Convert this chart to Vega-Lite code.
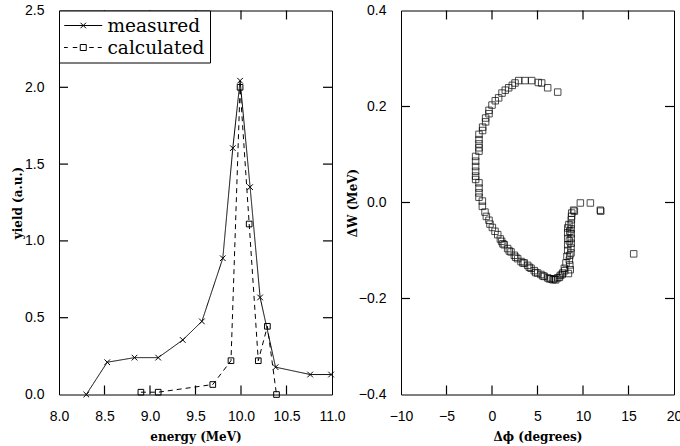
{
  "$schema": "https://vega.github.io/schema/vega-lite/v6.json",
  "padding": {"left": 10, "top": 2.5, "right": 0, "bottom": 0},
  "bounds": "flush",
  "spacing": 69,
  "config": {
    "view": {"stroke": "black", "strokeWidth": 1},
    "axis": {
      "domain": false, "grid": false, "ticks": false, "tickSize": 0,
      "labelFont": "Liberation Sans", "labelFontSize": 14, "labelColor": "black",
      "labelPadding": 15, "labelOverlap": false, "labelFlush": false, "labelBound": false,
      "titleFont": "DejaVu Serif", "titleFontWeight": "bold", "titleFontSize": 12, "titleColor": "black"
    }
  },
  "datasets": {
    "left": [
      {"energy": 8.30, "yield": 0.0, "series": "measured"},
      {"energy": 8.53, "yield": 0.21, "series": "measured"},
      {"energy": 8.83, "yield": 0.24, "series": "measured"},
      {"energy": 9.09, "yield": 0.24, "series": "measured"},
      {"energy": 9.36, "yield": 0.355, "series": "measured"},
      {"energy": 9.57, "yield": 0.476, "series": "measured"},
      {"energy": 9.80, "yield": 0.887, "series": "measured"},
      {"energy": 9.91, "yield": 1.604, "series": "measured"},
      {"energy": 9.99, "yield": 2.043, "series": "measured"},
      {"energy": 10.10, "yield": 1.35, "series": "measured"},
      {"energy": 10.21, "yield": 0.632, "series": "measured"},
      {"energy": 10.38, "yield": 0.178, "series": "measured"},
      {"energy": 10.76, "yield": 0.13, "series": "measured"},
      {"energy": 10.99, "yield": 0.13, "series": "measured"},
      {"energy": 8.90, "yield": 0.015, "series": "calculated"},
      {"energy": 9.09, "yield": 0.015, "series": "calculated"},
      {"energy": 9.69, "yield": 0.065, "series": "calculated"},
      {"energy": 9.89, "yield": 0.22, "series": "calculated"},
      {"energy": 9.99, "yield": 2.0, "series": "calculated"},
      {"energy": 10.09, "yield": 1.11, "series": "calculated"},
      {"energy": 10.19, "yield": 0.22, "series": "calculated"},
      {"energy": 10.29, "yield": 0.444, "series": "calculated"},
      {"energy": 10.39, "yield": 0.0, "series": "calculated"}
    ],
    "leftXTicks": [{"v": 8.5}, {"v": 9}, {"v": 9.5}, {"v": 10}, {"v": 10.5}],
    "leftYTicks": [{"v": 0.5}, {"v": 1}, {"v": 1.5}, {"v": 2}],
    "rightXTicks": [{"v": -5}, {"v": 0}, {"v": 5}, {"v": 10}, {"v": 15}],
    "rightYTicks": [{"v": -0.2}, {"v": 0}, {"v": 0.2}],
    "right": [
      {"dphi": 7.22, "dW": 0.230}, {"dphi": 6.12, "dW": 0.239}, {"dphi": 5.46, "dW": 0.249}, {"dphi": 5.09, "dW": 0.250},
      {"dphi": 4.36, "dW": 0.254}, {"dphi": 3.63, "dW": 0.254}, {"dphi": 2.93, "dW": 0.254}, {"dphi": 2.53, "dW": 0.249},
      {"dphi": 2.23, "dW": 0.244}, {"dphi": 1.83, "dW": 0.239}, {"dphi": 1.46, "dW": 0.234}, {"dphi": 1.10, "dW": 0.228},
      {"dphi": 0.73, "dW": 0.218}, {"dphi": 0.36, "dW": 0.212}, {"dphi": 0.0, "dW": 0.203}, {"dphi": -0.33, "dW": 0.192},
      {"dphi": -0.33, "dW": 0.185}, {"dphi": -0.7, "dW": 0.176}, {"dphi": -0.7, "dW": 0.168}, {"dphi": -1.03, "dW": 0.157},
      {"dphi": -1.03, "dW": 0.150}, {"dphi": -1.43, "dW": 0.142}, {"dphi": -1.43, "dW": 0.131}, {"dphi": -1.43, "dW": 0.122},
      {"dphi": -1.43, "dW": 0.114}, {"dphi": -1.43, "dW": 0.107}, {"dphi": -1.8, "dW": 0.096}, {"dphi": -1.8, "dW": 0.086},
      {"dphi": -1.8, "dW": 0.075}, {"dphi": -1.8, "dW": 0.065}, {"dphi": -1.8, "dW": 0.055}, {"dphi": -1.8, "dW": 0.048},
      {"dphi": -1.43, "dW": 0.041}, {"dphi": -1.43, "dW": 0.030}, {"dphi": -1.43, "dW": 0.020}, {"dphi": -1.43, "dW": 0.011},
      {"dphi": -1.06, "dW": 0.003}, {"dphi": -1.06, "dW": -0.008}, {"dphi": -0.77, "dW": -0.020}, {"dphi": -0.62, "dW": -0.029},
      {"dphi": -0.33, "dW": -0.037}, {"dphi": -0.22, "dW": -0.045}, {"dphi": 0.04, "dW": -0.052}, {"dphi": 0.33, "dW": -0.060},
      {"dphi": 0.63, "dW": -0.067}, {"dphi": 0.92, "dW": -0.076}, {"dphi": 1.06, "dW": -0.081}, {"dphi": 1.35, "dW": -0.088},
      {"dphi": 1.72, "dW": -0.096}, {"dphi": 2.09, "dW": -0.103}, {"dphi": 2.45, "dW": -0.110}, {"dphi": 2.82, "dW": -0.117},
      {"dphi": 3.19, "dW": -0.123}, {"dphi": 3.55, "dW": -0.126}, {"dphi": 3.92, "dW": -0.131}, {"dphi": 4.29, "dW": -0.137},
      {"dphi": 4.65, "dW": -0.142}, {"dphi": 5.02, "dW": -0.147}, {"dphi": 5.38, "dW": -0.150}, {"dphi": 5.75, "dW": -0.154},
      {"dphi": 6.12, "dW": -0.157}, {"dphi": 6.48, "dW": -0.159}, {"dphi": 6.85, "dW": -0.159}, {"dphi": 7.22, "dW": -0.157},
      {"dphi": 7.51, "dW": -0.152}, {"dphi": 7.77, "dW": -0.147}, {"dphi": 7.95, "dW": -0.137}, {"dphi": 8.13, "dW": -0.126},
      {"dphi": 8.24, "dW": -0.112}, {"dphi": 8.32, "dW": -0.100}, {"dphi": 8.32, "dW": -0.088}, {"dphi": 8.32, "dW": -0.075},
      {"dphi": 8.32, "dW": -0.063}, {"dphi": 8.32, "dW": -0.053}, {"dphi": 8.45, "dW": -0.046}, {"dphi": 8.68, "dW": -0.105},
      {"dphi": 8.68, "dW": -0.095}, {"dphi": 8.70, "dW": -0.085}, {"dphi": 8.70, "dW": -0.075}, {"dphi": 8.70, "dW": -0.065},
      {"dphi": 8.70, "dW": -0.055}, {"dphi": 8.70, "dW": -0.045}, {"dphi": 8.72, "dW": -0.036}, {"dphi": 8.74, "dW": -0.029},
      {"dphi": 8.76, "dW": -0.022}, {"dphi": 8.97, "dW": -0.016}, {"dphi": 9.05, "dW": -0.018}, {"dphi": 9.71, "dW": -0.001},
      {"dphi": 10.81, "dW": -0.001}, {"dphi": 11.9, "dW": -0.016}, {"dphi": 11.95, "dW": -0.018}, {"dphi": 15.57, "dW": -0.107},
      {"dphi": 1.2, "dW": -0.086}, {"dphi": 1.9, "dW": -0.101}, {"dphi": 2.6, "dW": -0.114}, {"dphi": 3.4, "dW": -0.126},
      {"dphi": 4.1, "dW": -0.135}, {"dphi": 4.8, "dW": -0.146}, {"dphi": 5.6, "dW": -0.153}, {"dphi": 6.3, "dW": -0.159},
      {"dphi": 6.7, "dW": -0.161}, {"dphi": 7.0, "dW": -0.161}, {"dphi": 7.4, "dW": -0.156}, {"dphi": 7.7, "dW": -0.150},
      {"dphi": 8.0, "dW": -0.142}, {"dphi": 8.55, "dW": -0.110}, {"dphi": 8.55, "dW": -0.130}, {"dphi": 8.6, "dW": -0.140},
      {"dphi": 8.4, "dW": -0.148}, {"dphi": 8.5, "dW": -0.120}, {"dphi": 8.5, "dW": -0.080}, {"dphi": 8.55, "dW": -0.060}
    ]
  },
  "hconcat": [
    {
      "width": 273,
      "height": 384,
      "layer": [
        {
          "data": {"name": "left"},
          "mark": {"type": "line", "color": "black", "strokeWidth": 1},
          "encoding": {
            "x": {"field": "energy", "type": "quantitative",
                  "scale": {"domain": [8, 11], "nice": false, "zero": false},
                  "axis": {"orient": "bottom", "values": [8, 8.5, 9, 9.5, 10, 10.5, 11], "format": ".1f",
                           "title": "energy (MeV)", "titleY": 42, "titleBaseline": "middle"}},
            "y": {"field": "yield", "type": "quantitative",
                  "scale": {"domain": [0, 2.5], "nice": false, "zero": false},
                  "axis": {"orient": "left", "values": [0, 0.5, 1, 1.5, 2, 2.5], "format": ".1f",
                           "title": "yield (a.u.)", "titleX": -42, "titleBaseline": "middle"}},
            "strokeDash": {"field": "series", "type": "nominal",
                           "scale": {"domain": ["measured", "calculated"], "range": [[1, 0], [5, 4]]},
                           "legend": null}
          }
        },
        {
          "data": {"name": "left"},
          "mark": {"type": "point", "color": "black", "filled": false, "strokeWidth": 1, "size": 32, "opacity": 1},
          "encoding": {
            "x": {"field": "energy", "type": "quantitative"},
            "y": {"field": "yield", "type": "quantitative"},
            "shape": {"field": "series", "type": "nominal",
                      "scale": {"domain": ["measured", "calculated"], "range": ["M-1,-1L1,1M-1,1L1,-1", "square"]},
                      "legend": null}
          }
        },
        {
          "data": {"name": "left"},
          "mark": {"type": "point", "color": "black", "filled": false, "opacity": 0},
          "encoding": {
            "x": {"field": "energy", "type": "quantitative"},
            "y": {"field": "yield", "type": "quantitative"},
            "shape": {"field": "series", "type": "nominal",
                      "scale": {"domain": ["measured", "calculated"],
                                "range": ["M-3.8,0H3.8M-0.55,-0.55L0.55,0.55M-0.55,0.55L0.55,-0.55",
                                          "M-3.9,0H-3.1M-2.1,0H-1.2M-0.6,-0.6H0.6V0.6H-0.6ZM1.2,0H2.1M2.9,0H3.7"]},
                      "legend": {"orient": "top-left", "offset": 0, "title": null, "padding": 5,
                                 "strokeColor": "black", "fillColor": "white", "cornerRadius": 0,
                                 "symbolSize": 100, "symbolStrokeColor": "black", "symbolStrokeWidth": 1,
                                 "symbolOpacity": 1, "symbolFillColor": "transparent",
                                 "symbolOffset": 10, "labelOffset": 15,
                                 "labelFont": "DejaVu Serif", "labelFontSize": 18.5, "labelColor": "black",
                                 "clipHeight": 20, "rowPadding": 2}}
          }
        },
        {
          "data": {"name": "leftXTicks"},
          "mark": {"type": "tick", "orient": "vertical", "color": "black", "size": 9, "thickness": 1.2, "opacity": 1},
          "encoding": {
            "x": {"field": "v", "type": "quantitative"},
            "y": {"datum": 0.0293, "type": "quantitative"}
          }
        },
        {
          "data": {"name": "leftXTicks"},
          "mark": {"type": "tick", "orient": "vertical", "color": "black", "size": 9, "thickness": 1.2, "opacity": 1},
          "encoding": {
            "x": {"field": "v", "type": "quantitative"},
            "y": {"datum": 2.4707, "type": "quantitative"}
          }
        },
        {
          "data": {"name": "leftYTicks"},
          "mark": {"type": "tick", "orient": "horizontal", "color": "black", "size": 9, "thickness": 1.2, "opacity": 1},
          "encoding": {
            "y": {"field": "v", "type": "quantitative"},
            "x": {"datum": 8.0495, "type": "quantitative"}
          }
        },
        {
          "data": {"name": "leftYTicks"},
          "mark": {"type": "tick", "orient": "horizontal", "color": "black", "size": 9, "thickness": 1.2, "opacity": 1},
          "encoding": {
            "y": {"field": "v", "type": "quantitative"},
            "x": {"datum": 10.9505, "type": "quantitative"}
          }
        }
      ],
      "resolve": {"scale": {"shape": "independent"}}
    },
    {
      "width": 273,
      "height": 384,
      "layer": [
        {
          "data": {"name": "right"},
          "mark": {"type": "point", "shape": "square", "filled": false, "color": "black", "size": 42, "strokeWidth": 1},
          "encoding": {
            "x": {"field": "dphi", "type": "quantitative",
                  "scale": {"domain": [-10, 20], "nice": false, "zero": false},
                  "axis": {"orient": "bottom", "values": [-10, -5, 0, 5, 10, 15, 20], "format": "d",
                           "title": "Δϕ (degrees)", "titleY": 42, "titleBaseline": "middle"}},
            "y": {"field": "dW", "type": "quantitative",
                  "scale": {"domain": [-0.4, 0.4], "nice": false, "zero": false},
                  "axis": {"orient": "left", "values": [-0.4, -0.2, 0, 0.2, 0.4], "format": ".1f",
                           "title": "ΔW (MeV)", "titleX": -48.5, "titleBaseline": "middle"}}
          }
        },
        {
          "data": {"name": "rightXTicks"},
          "mark": {"type": "tick", "orient": "vertical", "color": "black", "size": 9, "thickness": 1.2, "opacity": 1},
          "encoding": {
            "x": {"field": "v", "type": "quantitative"},
            "y": {"datum": -0.390625, "type": "quantitative"}
          }
        },
        {
          "data": {"name": "rightXTicks"},
          "mark": {"type": "tick", "orient": "vertical", "color": "black", "size": 9, "thickness": 1.2, "opacity": 1},
          "encoding": {
            "x": {"field": "v", "type": "quantitative"},
            "y": {"datum": 0.390625, "type": "quantitative"}
          }
        },
        {
          "data": {"name": "rightYTicks"},
          "mark": {"type": "tick", "orient": "horizontal", "color": "black", "size": 9, "thickness": 1.2, "opacity": 1},
          "encoding": {
            "y": {"field": "v", "type": "quantitative"},
            "x": {"datum": -9.5055, "type": "quantitative"}
          }
        },
        {
          "data": {"name": "rightYTicks"},
          "mark": {"type": "tick", "orient": "horizontal", "color": "black", "size": 9, "thickness": 1.2, "opacity": 1},
          "encoding": {
            "y": {"field": "v", "type": "quantitative"},
            "x": {"datum": 19.5055, "type": "quantitative"}
          }
        }
      ]
    }
  ]
}
